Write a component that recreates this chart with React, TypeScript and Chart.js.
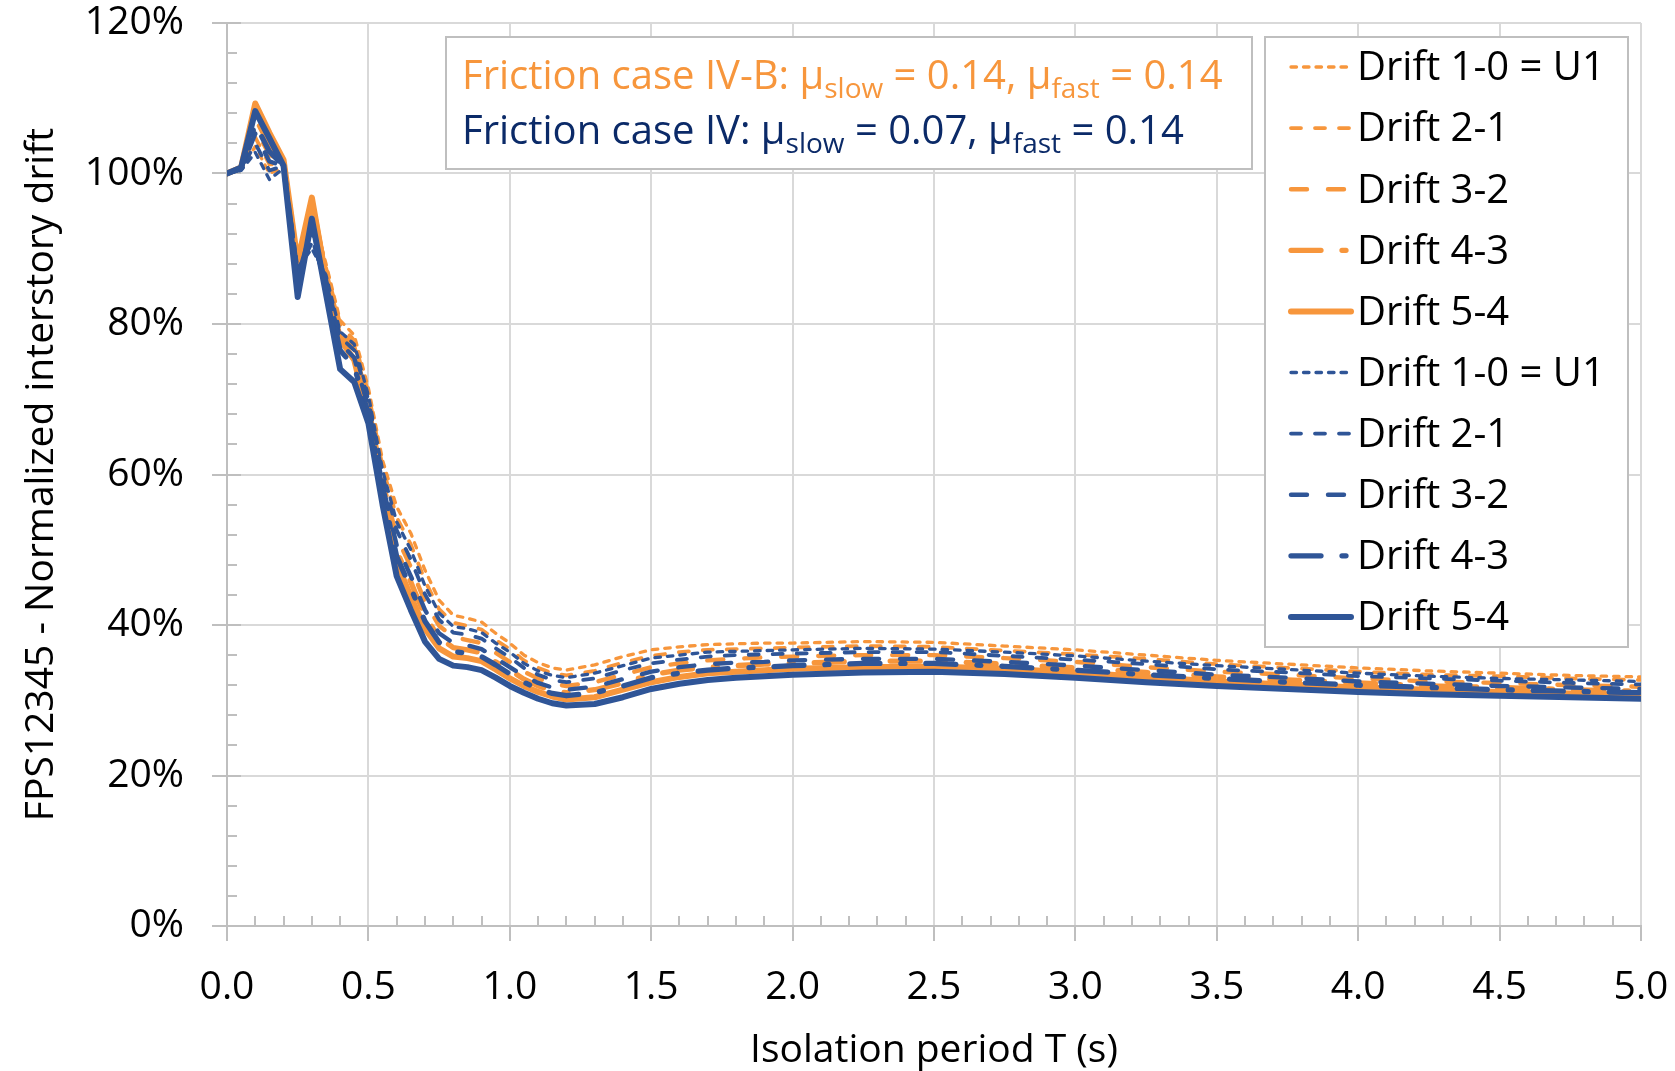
import React, { useEffect, useRef } from 'react';
import { Chart, registerables } from 'chart.js';

Chart.register(...registerables);

// Isolation period T (s)
const periods = [0, 0.05, 0.1, 0.15, 0.2, 0.25, 0.3, 0.35, 0.4, 0.45, 0.5, 0.55, 0.6, 0.65, 0.7, 0.75, 0.8, 0.85, 0.9, 0.95,
  1.0, 1.05, 1.1, 1.15, 1.2, 1.3, 1.4, 1.5, 1.6, 1.7, 1.8, 1.9, 2.0, 2.25, 2.5, 2.75, 3.0, 3.25, 3.5, 3.75, 4.0, 4.25, 4.5, 4.75, 5.0];

// Friction case IV-B (orange), normalized drift in %
const caseIVB_drift10 = [100, 100.6, 103.6, 100.0, 100.8, 89.0, 95.0, 88.0, 80.5, 78.5, 71.5, 61.9, 55.7, 52.2, 47.3, 43.3, 41.3, 40.9, 40.4, 38.9,
  37.6, 36.0, 35.0, 34.3, 34.0, 34.7, 35.8, 36.7, 37.1, 37.4, 37.5, 37.6, 37.6, 37.8, 37.7, 37.2, 36.7, 36.0, 35.3, 34.8, 34.3, 33.9, 33.6, 33.3, 33.1];
const caseIVB_drift21 = [100, 100.7, 104.8, 101.2, 101.2, 88.5, 95.8, 87.5, 80.0, 77.8, 70.8, 61.0, 54.3, 50.7, 45.9, 42.1, 40.3, 39.9, 39.4, 38.0,
  36.8, 35.3, 34.3, 33.6, 33.3, 33.9, 35.0, 35.9, 36.4, 36.7, 36.8, 36.9, 37.0, 37.2, 37.1, 36.6, 36.1, 35.5, 34.8, 34.3, 33.8, 33.4, 33.2, 32.9, 32.7];
const caseIVB_drift32 = [100, 100.8, 106.0, 102.5, 101.5, 88.2, 96.2, 87.0, 79.3, 77.0, 69.4, 59.3, 51.7, 47.7, 43.1, 39.9, 38.4, 38.0, 37.6, 36.3,
  35.1, 33.8, 32.9, 32.2, 31.9, 32.4, 33.4, 34.4, 34.9, 35.3, 35.5, 35.7, 35.8, 36.0, 36.0, 35.6, 35.1, 34.4, 33.8, 33.4, 32.9, 32.5, 32.3, 32.0, 31.8];
const caseIVB_drift43 = [100, 100.8, 107.4, 103.8, 101.6, 88.0, 96.5, 86.5, 78.6, 76.2, 68.5, 58.1, 49.8, 45.7, 41.2, 38.3, 37.0, 36.7, 36.3, 35.1,
  34.0, 32.8, 31.9, 31.3, 31.0, 31.4, 32.3, 33.4, 34.0, 34.4, 34.6, 34.8, 34.9, 35.2, 35.2, 34.8, 34.3, 33.7, 33.1, 32.7, 32.3, 31.9, 31.7, 31.4, 31.2];
const caseIVB_drift54 = [100, 100.8, 109.3, 105.4, 101.8, 88.3, 96.8, 86.0, 78.0, 75.2, 67.6, 57.1, 48.2, 43.8, 39.5, 36.9, 35.8, 35.6, 35.2, 34.1,
  32.9, 31.9, 31.1, 30.5, 30.1, 30.4, 31.4, 32.4, 33.1, 33.6, 33.8, 34.0, 34.2, 34.4, 34.5, 34.2, 33.7, 33.1, 32.5, 32.1, 31.7, 31.4, 31.1, 30.9, 30.7];

// Friction case IV (blue), normalized drift in %
const caseIV_drift10 = [100, 100.4, 102.8, 99.2, 100.7, 87.5, 90.0, 86.5, 79.0, 77.3, 70.5, 60.6, 53.7, 50.0, 45.2, 41.6, 39.8, 39.5, 39.0, 37.6,
  36.4, 34.9, 33.9, 33.3, 33.0, 33.6, 34.6, 35.6, 36.0, 36.4, 36.5, 36.6, 36.7, 36.9, 36.8, 36.4, 35.9, 35.2, 34.6, 34.1, 33.6, 33.2, 32.9, 32.7, 32.5];
const caseIV_drift21 = [100, 100.5, 104.0, 100.4, 101.0, 87.0, 90.8, 86.0, 78.3, 76.5, 69.9, 59.9, 52.6, 48.7, 44.1, 40.7, 39.0, 38.7, 38.2, 36.9,
  35.7, 34.3, 33.4, 32.7, 32.4, 32.9, 34.0, 34.9, 35.4, 35.8, 36.0, 36.1, 36.2, 36.4, 36.4, 35.9, 35.4, 34.8, 34.1, 33.7, 33.2, 32.9, 32.6, 32.3, 32.1];
const caseIV_drift32 = [100, 100.6, 105.3, 101.6, 101.0, 86.5, 91.5, 85.5, 77.5, 75.5, 68.9, 58.6, 50.6, 46.5, 42.0, 38.9, 37.6, 37.3, 36.8, 35.6,
  34.4, 33.2, 32.3, 31.7, 31.4, 31.8, 32.8, 33.8, 34.4, 34.8, 35.0, 35.1, 35.3, 35.5, 35.5, 35.1, 34.6, 34.0, 33.4, 33.0, 32.5, 32.2, 31.9, 31.7, 31.5];
const caseIV_drift43 = [100, 100.7, 106.6, 102.9, 101.0, 86.0, 92.5, 85.0, 76.5, 74.3, 68.1, 57.7, 49.1, 44.9, 40.5, 37.7, 36.5, 36.2, 35.8, 34.7,
  33.5, 32.4, 31.5, 30.9, 30.6, 31.0, 31.9, 33.0, 33.6, 34.0, 34.3, 34.4, 34.6, 34.9, 34.9, 34.5, 34.0, 33.4, 32.9, 32.4, 32.0, 31.7, 31.4, 31.2, 31.0];
const caseIV_drift54 = [100, 100.8, 108.3, 104.7, 101.0, 83.6, 94.0, 84.0, 74.0, 72.3, 66.8, 56.0, 46.5, 42.0, 37.8, 35.5, 34.6, 34.4, 34.0, 33.0,
  31.9, 31.0, 30.2, 29.6, 29.3, 29.5, 30.4, 31.5, 32.2, 32.7, 33.0, 33.2, 33.4, 33.7, 33.8, 33.5, 33.0, 32.4, 31.9, 31.5, 31.1, 30.8, 30.6, 30.4, 30.2];

const driftLabels = ['Drift 1-0 = U1', 'Drift 2-1', 'Drift 3-2', 'Drift 4-3', 'Drift 5-4'];
const orangeSeries = [caseIVB_drift10, caseIVB_drift21, caseIVB_drift32, caseIVB_drift43, caseIVB_drift54];
const blueSeries = [caseIV_drift10, caseIV_drift21, caseIV_drift32, caseIV_drift43, caseIV_drift54];

const xTickStep = 0.5;
const yTickStep = 20;
const yTitle = 'FPS12345 - Normalized interstory drift';
const xTitle = 'Isolation period T (s)';

// styles
const ORANGE = '#F7963C';
const BLUE = '#2F5597';
const NAVY = '#0B2A68';
const FAM = "'Open Sans', 'Noto Sans', sans-serif";
const dashStyles = [[5.5, 7], [10, 14], [16, 21], [30, 21, 4, 21], []];
const lineWidths = [3.3, 3.8, 4.4, 5.3, 6];

function drawRich(ctx: CanvasRenderingContext2D, x: number, y: number, parts: { t: string; sub?: boolean }[], color: string) {
  let cx = x;
  ctx.fillStyle = color;
  ctx.textAlign = 'left';
  ctx.textBaseline = 'alphabetic';
  for (const p of parts) {
    ctx.font = (p.sub ? '28px ' : '40px ') + FAM;
    ctx.fillText(p.t, cx, y + (p.sub ? 9 : 0));
    cx += ctx.measureText(p.t).width;
  }
}

const overlayPlugin = {
  id: 'overlayPlugin',
  beforeDatasetsDraw(chart: any) {
    const { ctx, chartArea, scales } = chart;
    const xs = scales.x;
    const ys = scales.y;
    ctx.save();
    ctx.strokeStyle = '#BFBFBF';
    ctx.lineWidth = 2;
    ctx.beginPath();
    for (let k = 0; k <= 50; k++) {
      const px = Math.round(xs.getPixelForValue(k / 10));
      if (k % 5 === 0) {
        ctx.moveTo(px, chartArea.bottom);
        ctx.lineTo(px, chartArea.bottom + 15);
      } else {
        ctx.moveTo(px, chartArea.bottom);
        ctx.lineTo(px, chartArea.bottom - 10);
      }
    }
    for (let k = 0; k <= 30; k++) {
      const py = Math.round(ys.getPixelForValue(k * 4));
      if (k % 5 === 0) {
        ctx.moveTo(chartArea.left - 15, py);
        ctx.lineTo(chartArea.left + 14, py);
      } else {
        ctx.moveTo(chartArea.left, py);
        ctx.lineTo(chartArea.left + 10, py);
      }
    }
    ctx.stroke();
    ctx.restore();
  },
  afterDraw(chart: any) {
    const ctx: CanvasRenderingContext2D = chart.ctx;
    ctx.save();
    // annotation box
    ctx.fillStyle = '#FFFFFF';
    ctx.fillRect(446, 37, 806, 132);
    ctx.strokeStyle = '#BFBFBF';
    ctx.lineWidth = 2;
    ctx.strokeRect(446, 37, 806, 132);
    drawRich(ctx, 462, 89, [
      { t: 'Friction case IV-B: \u03bc' }, { t: 'slow', sub: true }, { t: ' = 0.14, \u03bc' }, { t: 'fast', sub: true }, { t: ' = 0.14' },
    ], ORANGE);
    drawRich(ctx, 462, 144, [
      { t: 'Friction case IV: \u03bc' }, { t: 'slow', sub: true }, { t: ' = 0.07, \u03bc' }, { t: 'fast', sub: true }, { t: ' = 0.14' },
    ], NAVY);

    // legend box
    ctx.fillStyle = '#FFFFFF';
    ctx.fillRect(1265, 37, 363, 610);
    ctx.strokeRect(1265, 37, 363, 610);
    const ds = chart.data.datasets;
    ds.forEach((d: any, i: number) => {
      const yy = 67 + i * 61.1;
      ctx.save();
      ctx.strokeStyle = d.borderColor;
      ctx.lineWidth = d.borderWidth;
      ctx.setLineDash(d.borderDash || []);
      ctx.lineCap = 'round';
      ctx.beginPath();
      ctx.moveTo(1291, yy);
      ctx.lineTo(1351, yy);
      ctx.stroke();
      ctx.restore();
      ctx.fillStyle = '#000000';
      ctx.font = '40px ' + FAM;
      ctx.textBaseline = 'middle';
      ctx.textAlign = 'left';
      ctx.fillText(d.label, 1357, yy + 2);
    });
    ctx.restore();
  },
};

export default function App() {
  const ref = useRef<HTMLCanvasElement | null>(null);
  useEffect(() => {
    document.body.style.margin = '0';
    document.body.style.overflow = 'hidden';
    const canvas = ref.current!;
    const datasets: any[] = [];
    const groups = [
      { series: orangeSeries, color: ORANGE },
      { series: blueSeries, color: BLUE },
    ];
    groups.forEach((g) => {
      g.series.forEach((vals, j) => {
        datasets.push({
          label: driftLabels[j],
          data: periods.map((t, i) => ({ x: t, y: vals[i] })),
          borderColor: g.color,
          backgroundColor: g.color,
          borderWidth: lineWidths[j],
          borderDash: dashStyles[j],
          pointRadius: 0,
          fill: false,
        });
      });
    });
    datasets.forEach((d, i) => { d.order = datasets.length - i; });

    const chart = new Chart(canvas, {
      type: 'line',
      data: { datasets },
      options: {
        responsive: false,
        animation: false,
        devicePixelRatio: 1,
        layout: { padding: { top: 23, right: 34, left: 0, bottom: 0 } },
        elements: { line: { tension: 0, borderCapStyle: 'round', borderJoinStyle: 'round' }, point: { radius: 0 } },
        plugins: { legend: { display: false }, tooltip: { enabled: false } },
        scales: {
          x: {
            type: 'linear',
            min: 0,
            max: 5,
            afterFit: (s: any) => { s.height = 145; s.paddingLeft = 0; s.paddingRight = 0; },
            ticks: {
              stepSize: xTickStep,
              autoSkip: false,
              maxRotation: 0,
              callback: (v: any) => Number(v).toFixed(1),
              font: { size: 39, family: FAM },
              color: '#000000',
              padding: 38,
            },
            grid: { color: '#D9D9D9', lineWidth: 2, drawTicks: false },
            border: { color: '#BFBFBF', width: 2 },
            title: { display: true, text: xTitle, font: { size: 39, family: FAM }, color: '#000000', padding: { top: 0, bottom: -3 } },
          },
          y: {
            type: 'linear',
            min: 0,
            max: 120,
            afterFit: (s: any) => { s.width = 227; s.paddingTop = 0; s.paddingBottom = 0; },
            ticks: {
              stepSize: yTickStep,
              callback: (v: any) => v + '%',
              font: { size: 39, family: FAM },
              color: '#000000',
              padding: 43,
            },
            grid: { color: '#D9D9D9', lineWidth: 2, drawTicks: false },
            border: { color: '#BFBFBF', width: 2 },
            title: { display: true, text: yTitle, font: { size: 39, family: FAM }, color: '#000000', padding: { top: 18, bottom: 0 } },
          },
        },
      },
      plugins: [overlayPlugin],
    } as any);
    return () => chart.destroy();
  }, []);
  return (
    <div style={{ position: 'fixed', left: 0, top: 0, width: 1675, height: 1071, background: '#fff' }}>
      <canvas ref={ref} width={1675} height={1071} style={{ display: 'block' }} />
    </div>
  );
}
